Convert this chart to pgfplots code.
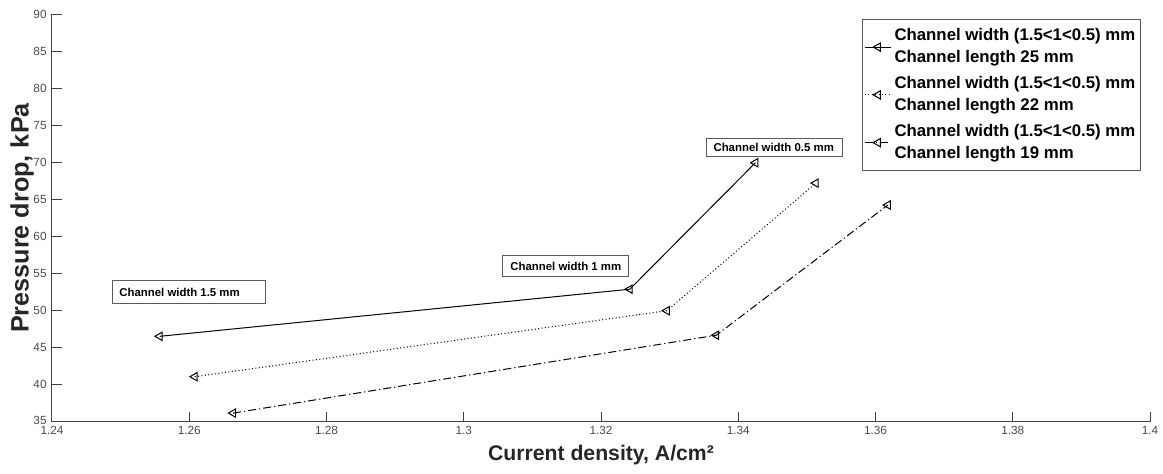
\documentclass[border=0pt]{standalone}
\usepackage{fontspec}
\setmainfont{Liberation Sans}
\usepackage{pgfplots}
\pgfplotsset{compat=1.18}
\definecolor{axgray}{HTML}{404040}
\definecolor{ticklab}{HTML}{4A4A4A}
\definecolor{boxgray}{HTML}{5A5A5A}
\begin{document}
\begin{tikzpicture}
\begin{axis}[
  name=ax,
  scale only axis,
  width=549pt, height=204pt,
  xmin=1.24, xmax=1.4, ymin=35, ymax=90,
  axis lines*=left,
  axis line style={axgray, line width=0.5pt},
  tick style={axgray, line width=0.5pt},
  tick align=inside,
  major tick length=5pt,
  xtick={1.24,1.26,1.28,1.3,1.32,1.34,1.36,1.38,1.4},
  xticklabels={1.24,1.26,1.28,1.3,1.32,1.34,1.36,1.38,1.4},
  ytick={35,40,45,50,55,60,65,70,75,80,85,90},
  yticklabels={\raisebox{2pt}{35},40,45,50,55,60,65,70,75,80,85,90},
  /pgf/number format/assume math mode=true,
  ticklabel style={font=\fontsize{5.9}{7}\selectfont, text=ticklab},
  xticklabel style={inner sep=1.8pt},
  yticklabel style={inner sep=2.5pt},
  xlabel={Current density, A/cm²},
  ylabel={Pressure drop, kPa},
  xlabel style={font=\bfseries\fontsize{10.6}{12}\selectfont, text=black!85, at={(axis description cs:0.5,-0.081)}, anchor=center},
  ylabel style={font=\bfseries\fontsize{12.6}{14}\selectfont, text=black!85, at={(axis description cs:-0.0273,0.5)}, anchor=center},
  legend cell align=left,
  legend style={at={(axis description cs:0.7377,0.9877)}, anchor=north west,
    draw=boxgray, line width=0.5pt, inner xsep=1pt, inner ysep=3pt, row sep=2.3pt,
    nodes={align=left, font=\bfseries\fontsize{8.4}{11}\selectfont, inner sep=1.5pt}},
  legend image code/.code={\draw[mark repeat=2, mark phase=2, #1] plot coordinates {(0pt,0pt) (6.5pt,0pt) (13pt,0pt)};},
  every axis plot/.append style={black, line width=0.5pt, mark=triangle, mark size=2.4pt, mark options={solid, rotate=90, fill=white}},
]
\addplot[solid] coordinates {(1.2557,46.55) (1.3242,52.9) (1.3425,69.95)};
\addlegendentry{Channel width (1.5<1<0.5) mm\\Channel length 25 mm}
\addplot[dash pattern=on 0.5pt off 1.2pt] coordinates {(1.2608,41.1) (1.3296,50.0) (1.3513,67.2)};
\addlegendentry{Channel width (1.5<1<0.5) mm\\Channel length 22 mm}
\addplot[dash pattern=on 4pt off 1.5pt on 0.6pt off 1.5pt] coordinates {(1.2664,36.2) (1.3368,46.7) (1.3618,64.25)};
\addlegendentry{Channel width (1.5<1<0.5) mm\\Channel length 19 mm}
% annotation text boxes
\draw[boxgray, line width=0.5pt] (axis cs:1.24885,51.04) rectangle (axis cs:1.27104,54.05);
\node[anchor=west, inner sep=0pt, font=\bfseries\fontsize{5.7}{7}\selectfont] at (axis cs:1.24976,52.52) {Channel width 1.5 mm};
\draw[boxgray, line width=0.5pt] (axis cs:1.30568,54.68) rectangle (axis cs:1.32394,57.38);
\node[anchor=west, inner sep=0pt, font=\bfseries\fontsize{5.7}{7}\selectfont] at (axis cs:1.30674,56.03) {Channel width 1 mm};
\draw[boxgray, line width=0.5pt] (axis cs:1.3354,70.76) rectangle (axis cs:1.35522,73.28);
\node[anchor=west, inner sep=0pt, font=\bfseries\fontsize{5.7}{7}\selectfont] at (axis cs:1.33634,72.03) {Channel width 0.5 mm};
\end{axis}
\pgfresetboundingbox
\path[use as bounding box] ([shift={(-26pt,-26pt)}]ax.south west) rectangle ([shift={(6.5pt,7pt)}]ax.north east);
\end{tikzpicture}
\end{document}
